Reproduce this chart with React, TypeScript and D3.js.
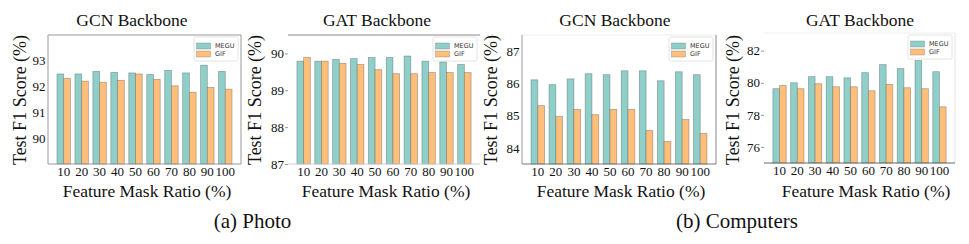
import * as d3 from 'd3';
import { useEffect, useRef } from 'react';

// feature mask ratios on the x axis
const ratios = ['10', '20', '30', '40', '50', '60', '70', '80', '90', '100'];
const seriesNames = ['MEGU', 'GIF'];

// (a) Photo
const photoGcnMegu = [92.49, 92.49, 92.59, 92.55, 92.53, 92.47, 92.63, 92.53, 92.83, 92.59];
const photoGcnGif = [92.32, 92.21, 92.17, 92.24, 92.49, 92.28, 92.03, 91.78, 91.97, 91.9];
const photoGatMegu = [89.79, 89.79, 89.84, 89.86, 89.89, 89.89, 89.93, 89.79, 89.77, 89.7];
const photoGatGif = [89.89, 89.79, 89.73, 89.7, 89.56, 89.45, 89.45, 89.48, 89.48, 89.48];

// (b) Computers
const compGcnMegu = [86.11, 85.96, 86.14, 86.3, 86.27, 86.39, 86.39, 86.08, 86.36, 86.27];
const compGcnGif = [85.31, 84.97, 85.19, 85.03, 85.19, 85.19, 84.54, 84.2, 84.88, 84.45];
const compGatMegu = [79.63, 80.0, 80.38, 80.38, 80.31, 80.63, 81.13, 80.88, 81.38, 80.69];
const compGatGif = [79.83, 79.63, 79.94, 79.75, 79.75, 79.5, 79.9, 79.69, 79.63, 78.5];

// y ranges and ticks
const photoGcnDomain = [89, 94];
const photoGcnTicks = [90, 91, 92, 93];
const photoGatDomain = [87, 90.5];
const photoGatTicks = [87, 88, 89, 90];
const compGcnDomain = [83.5, 87.5];
const compGcnTicks = [84, 85, 86, 87];
const compGatDomain = [75, 83.1];
const compGatTicks = [76, 78, 80, 82];

const colors = ['#8ECFC9', '#FFBE7A'];
const serif = '"Liberation Serif", "Times New Roman", serif';

type Spines = { top?: string; right?: string; bottom?: string; left?: string };

const panels = [
    {
        title: 'GCN Backbone', megu: photoGcnMegu, gif: photoGcnGif,
        domain: photoGcnDomain, ticks: photoGcnTicks,
        x0: 48, x1: 241, y0: 35, y1: 164, titleX: 132, xLabelX: 147, yLabelX: 20, tickSize: 0,
        spines: { top: '#999', right: '#999', bottom: '#999', left: '#999' } as Spines,
    },
    {
        title: 'GAT Backbone', megu: photoGatMegu, gif: photoGatGif,
        domain: photoGatDomain, ticks: photoGatTicks,
        x0: 288, x1: 480, y0: 35, y1: 164, titleX: 377, xLabelX: 386, yLabelX: 255, tickSize: 3,
        spines: { top: '#888', bottom: '#ccc' } as Spines,
    },
    {
        title: 'GCN Backbone', megu: compGcnMegu, gif: compGcnGif,
        domain: compGcnDomain, ticks: compGcnTicks,
        x0: 522, x1: 716, y0: 35, y1: 164, titleX: 615, xLabelX: 621, yLabelX: 491, tickSize: 0,
        spines: { top: '#eee', right: '#888', bottom: '#777', left: '#999' } as Spines,
    },
    {
        title: 'GAT Backbone', megu: compGatMegu, gif: compGatGif,
        domain: compGatDomain, ticks: compGatTicks,
        x0: 764, x1: 955, y0: 33, y1: 163, titleX: 860, xLabelX: 866, yLabelX: 733, tickSize: 3,
        spines: { top: '#eee', right: '#e4e4e4', bottom: '#666' } as Spines,
    },
];

const captions = [
    { text: '(a) Photo', x: 252.5 },
    { text: '(b) Computers', x: 737 },
];

function App() {
    const svgRef = useRef<SVGSVGElement>(null);

    useEffect(() => {
        const svg = d3.select(svgRef.current);
        svg.selectAll('*').remove();

        panels.forEach((p) => {
            const g = svg.append('g');
            const x = d3.scaleBand().domain(ratios).range([p.x0, p.x1]).paddingInner(0.25).paddingOuter(0.5);
            const inner = d3.scaleBand().domain(seriesNames).range([0, x.bandwidth()]);
            const y = d3.scaleLinear().domain(p.domain).range([p.y1, p.y0]);

            // bars
            [p.megu, p.gif].forEach((vals, si) => {
                g.selectAll(null)
                    .data(vals)
                    .enter()
                    .append('rect')
                    .attr('x', (d, i) => (x(ratios[i]) as number) + (inner(seriesNames[si]) as number))
                    .attr('y', (d) => y(d))
                    .attr('width', inner.bandwidth())
                    .attr('height', (d) => p.y1 - y(d))
                    .attr('fill', colors[si])
                    .attr('stroke', '#555')
                    .attr('stroke-opacity', 0.45)
                    .attr('stroke-width', 0.8);
            });

            // spines
            const s = p.spines;
            const line = (x1: number, y1: number, x2: number, y2: number, c?: string) => {
                if (!c) return;
                g.append('line').attr('x1', x1).attr('y1', y1).attr('x2', x2).attr('y2', y2)
                    .attr('stroke', c).attr('stroke-width', 1);
            };
            line(p.x0, p.y0, p.x1, p.y0, s.top);
            line(p.x1, p.y0, p.x1, p.y1, s.right);
            line(p.x0, p.y1, p.x1, p.y1, s.bottom);
            line(p.x0, p.y0, p.x0, p.y1, s.left);

            // y axis
            const yAxis = d3.axisLeft(y).tickValues(p.ticks).tickFormat(d3.format('d'))
                .tickSize(p.tickSize).tickPadding(p.tickSize ? 1 : 2.5);
            const ya = g.append('g').attr('transform', `translate(${p.x0},0)`).call(yAxis);
            ya.attr('font-family', serif);
            ya.select('.domain').remove();
            ya.selectAll('line').attr('stroke', '#999');
            ya.selectAll('text').attr('font-family', serif).attr('font-size', 13).attr('fill', '#111');

            // x axis
            const xAxis = d3.axisBottom(x).tickSize(0).tickPadding(3);
            const xa = g.append('g').attr('transform', `translate(0,${p.y1})`).call(xAxis);
            xa.attr('font-family', serif);
            xa.select('.domain').remove();
            xa.selectAll('text').attr('font-family', serif).attr('font-size', 13).attr('fill', '#111');

            // title and axis labels
            g.append('text').attr('x', p.titleX).attr('y', 26).attr('text-anchor', 'middle')
                .attr('font-family', serif).attr('font-size', 17.5).attr('fill', '#111').text(p.title);
            g.append('text').attr('x', p.xLabelX).attr('y', 197).attr('text-anchor', 'middle')
                .attr('font-family', serif).attr('font-size', 17.5).attr('fill', '#111').text('Feature Mask Ratio (%)');
            g.append('text').attr('transform', `translate(${p.yLabelX + 6},100) rotate(-90)`)
                .attr('text-anchor', 'middle')
                .attr('font-family', serif).attr('font-size', 18).attr('fill', '#111').text('Test F1 Score (%)');

            // legend
            const lx = p.x1 - 47;
            const ly = p.y0 + 2;
            const lg = g.append('g').attr('transform', `translate(${lx},${ly})`);
            lg.append('rect').attr('width', 44).attr('height', 24).attr('rx', 1.5)
                .attr('fill', 'white').attr('fill-opacity', 0.85).attr('stroke', '#ddd').attr('stroke-width', 0.8);
            seriesNames.forEach((name, i) => {
                lg.append('rect').attr('x', 2.5).attr('y', 6 + i * 8).attr('width', 14).attr('height', 6)
                    .attr('fill', colors[i]).attr('stroke', '#555').attr('stroke-opacity', 0.45).attr('stroke-width', 0.6);
                lg.append('text').attr('x', 21).attr('y', 11.3 + i * 8)
                    .attr('font-family', '"DejaVu Sans", sans-serif').attr('font-size', 6.5).attr('fill', '#333').text(name);
            });
        });

        captions.forEach((c) => {
            svg.append('text').attr('x', c.x).attr('y', 228).attr('text-anchor', 'middle')
                .attr('font-family', serif).attr('font-size', 21).attr('fill', '#111').text(c.text);
        });
    }, []);

    return (
        <>
            <style>{'body{margin:0}'}</style>
            <svg ref={svgRef} width={969} height={244} style={{ display: 'block', background: 'white' }}></svg>
        </>
    );
}

export default App;
